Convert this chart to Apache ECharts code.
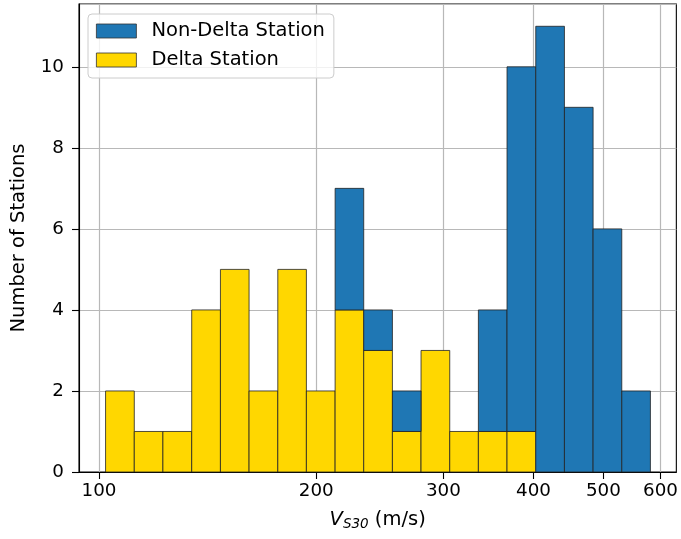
<!DOCTYPE html>
<html>
<head>
<meta charset="utf-8">
<script src="https://cdn.jsdelivr.net/npm/echarts@6/dist/echarts.min.js"></script>
<style>
html,body{margin:0;padding:0;background:#fff;}
#chart{width:681px;height:539px;}
</style>
</head>
<body>
<div id="chart"></div>
<script>
// Histogram bin edges (m/s), log-spaced
const binEdges = [102.1, 111.9, 122.6, 134.4, 147.3, 161.4, 176.9, 193.8, 212.4, 232.7,
                  255.0, 279.4, 306.2, 335.5, 367.6, 402.9, 441.5, 483.8, 530.2, 580.9];
// Counts per bin
const deltaCounts    = [2, 1, 1, 4, 5, 2, 5, 2, 4, 3, 1, 3, 1, 1, 1, 0, 0, 0, 0];
const nonDeltaCounts = [0, 0, 0, 0, 0, 0, 0, 0, 3, 1, 1, 0, 0, 3, 9, 11, 9, 6, 2];
// Axis ticks
const xTicks = [100, 200, 300, 400, 500, 600];
const yTicks = [0, 2, 4, 6, 8, 10];
const seriesNames = ['Non-Delta Station', 'Delta Station'];

const FONT = 'DejaVu Sans';
const BLUE = '#1f77b4';
const GOLD = '#FFD700';

const deltaData = [];
const nonDeltaData = [];
for (let i = 0; i < deltaCounts.length; i++) {
  if (deltaCounts[i] > 0) deltaData.push([binEdges[i], binEdges[i + 1], 0, deltaCounts[i]]);
  if (nonDeltaCounts[i] > 0) nonDeltaData.push([binEdges[i], binEdges[i + 1], deltaCounts[i], deltaCounts[i] + nonDeltaCounts[i]]);
}

function makeRender(color) {
  return function (params, api) {
    const p0 = api.coord([api.value(0), api.value(2)]);
    const p1 = api.coord([api.value(1), api.value(3)]);
    return {
      type: 'rect',
      shape: { x: p0[0], y: p1[1], width: p1[0] - p0[0], height: p0[1] - p1[1] },
      style: { fill: color, stroke: '#222', lineWidth: 0.8 }
    };
  };
}

const chart = echarts.init(document.getElementById('chart'), null, { renderer: 'canvas' });
chart.setOption({
  animation: false,
  backgroundColor: '#fff',
  grid: {
    left: 79, top: 4, right: 3, bottom: 67,
    show: true, borderColor: '#000', borderWidth: 1.1, backgroundColor: 'transparent'
  },
  legend: {
    data: seriesNames,
    orient: 'vertical',
    left: 88, top: 14,
    itemWidth: 40, itemHeight: 14, itemGap: 9,
    padding: [7, 9, 8, 8],
    backgroundColor: 'rgba(255,255,255,0.8)',
    borderColor: '#cccccc', borderWidth: 1, borderRadius: 4,
    icon: 'rect',
    itemStyle: { borderColor: '#333', borderWidth: 0.8 },
    textStyle: { fontFamily: FONT, fontSize: 19.5, color: '#000', lineHeight: 20, padding: [0, 0, 0, 10] }
  },
  xAxis: {
    type: 'log', logBase: 10,
    min: 93.8, max: 631,
    name: '{v|V}{s|S30}{t| (m/s)}',
    nameLocation: 'middle', nameGap: 36,
    nameTextStyle: {
      fontFamily: FONT, color: '#000',
      rich: {
        v: { fontFamily: FONT, fontSize: 19.5, fontStyle: 'italic', color: '#000', lineHeight: 24 },
        s: { fontFamily: FONT, fontSize: 13.5, fontStyle: 'italic', color: '#000', lineHeight: 24, padding: [9, 0, 0, 0] },
        t: { fontFamily: FONT, fontSize: 19.5, color: '#000', lineHeight: 24 }
      }
    },
    axisLine: { show: true, lineStyle: { color: '#000', width: 1.1 } },
    axisTick: { show: true, customValues: xTicks, length: 7, lineStyle: { color: '#000', width: 1.1 } },
    axisLabel: {
      customValues: xTicks, fontFamily: FONT, fontSize: 18.3, color: '#000', margin: 10,
      formatter: v => String(Math.round(v))
    },
    splitLine: { show: true, lineStyle: { color: '#b8b8b8', width: 1.2 } },
    minorTick: { show: false }, minorSplitLine: { show: false }
  },
  yAxis: {
    type: 'value', min: 0, max: 11.55, interval: 2,
    name: 'Number of Stations',
    nameLocation: 'middle', nameGap: 50, nameRotate: 90,
    nameTextStyle: { fontFamily: FONT, fontSize: 19.5, color: '#000' },
    axisLine: { show: true, lineStyle: { color: '#000', width: 1.1 } },
    axisTick: { show: true, length: 7, lineStyle: { color: '#000', width: 1.1 } },
    axisLabel: { fontFamily: FONT, fontSize: 18.3, color: '#000', margin: 15, showMaxLabel: false },
    splitLine: { show: true, lineStyle: { color: '#b8b8b8', width: 1.2 } }
  },
  series: [
    {
      name: seriesNames[1], type: 'custom',
      itemStyle: { color: GOLD },
      encode: { x: [0, 1], y: [2, 3] },
      renderItem: makeRender(GOLD),
      data: deltaData, z: 2
    },
    {
      name: seriesNames[0], type: 'custom',
      itemStyle: { color: BLUE },
      encode: { x: [0, 1], y: [2, 3] },
      renderItem: makeRender(BLUE),
      data: nonDeltaData, z: 3
    }
  ]
});
</script>
</body>
</html>
